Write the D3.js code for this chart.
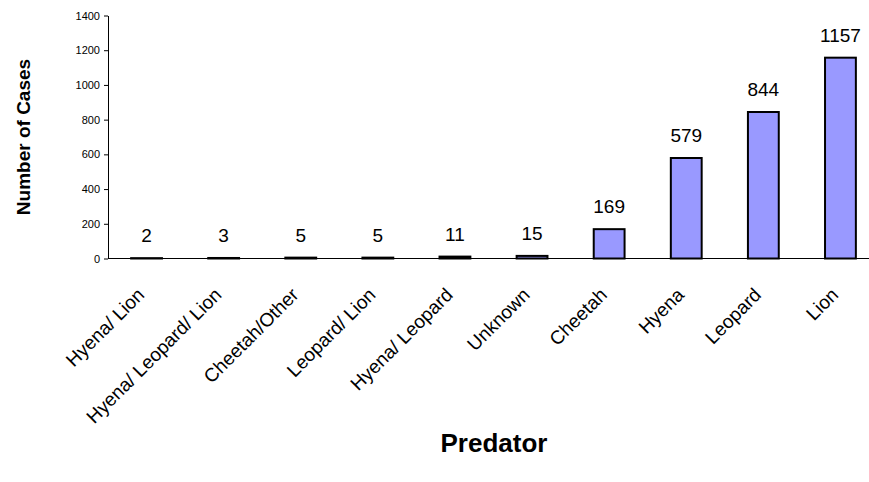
<!DOCTYPE html>
<html>
<head>
<meta charset="utf-8">
<script src="https://cdn.jsdelivr.net/npm/d3@7"></script>
<style>
  html, body { margin: 0; padding: 0; background: #fff; }
  svg { display: block; font-family: "Liberation Sans", Arial, sans-serif; }
</style>
</head>
<body>
<svg id="chart" width="869" height="482"></svg>
<script>
const categories = ["Hyena/ Lion", "Hyena/ Leopard/ Lion", "Cheetah/Other", "Leopard/ Lion", "Hyena/ Leopard", "Unknown", "Cheetah", "Hyena", "Leopard", "Lion"];
const cases = [2, 3, 5, 5, 11, 15, 169, 579, 844, 1157];
const yTicks = [0, 200, 400, 600, 800, 1000, 1200, 1400];
const yTitle = "Number of Cases";
const xTitle = "Predator";

const svg = d3.select("#chart");
const x = d3.scaleBand().domain(categories).range([108, 879]).paddingInner(0.6).paddingOuter(0.3);
const y = d3.scaleLinear().domain([0, 1400]).range([258.5, 15.5]);

// y axis
const yAxis = svg.append("g")
  .attr("transform", "translate(108,0)")
  .call(d3.axisLeft(y).tickValues(yTicks).tickFormat(d3.format("d")).tickSize(4).tickSizeOuter(0).tickPadding(4));
yAxis.select(".domain").attr("stroke", "#000");
yAxis.selectAll(".tick line").attr("stroke", "#000");
yAxis.selectAll(".tick text").attr("font-size", 11).attr("fill", "#000")
  .attr("font-family", "Liberation Sans, Arial, sans-serif");

// bars
svg.append("g").selectAll("rect").data(categories).join("rect")
  .attr("x", d => x(d))
  .attr("width", x.bandwidth())
  .attr("y", (d, i) => y(cases[i]))
  .attr("height", (d, i) => y(0) - y(cases[i]))
  .attr("fill", "#9999FF")
  .attr("stroke", "#000")
  .attr("stroke-width", 2);

// x axis line
svg.append("line")
  .attr("x1", 108).attr("x2", 879)
  .attr("y1", y(0)).attr("y2", y(0))
  .attr("stroke", "#000").attr("stroke-width", 1);

// value labels
svg.append("g").selectAll("text").data(categories).join("text")
  .attr("x", d => x(d) + x.bandwidth() / 2)
  .attr("y", (d, i) => y(cases[i]) - 16)
  .attr("text-anchor", "middle")
  .attr("font-size", 19)
  .attr("fill", "#000")
  .text((d, i) => cases[i]);

// category labels
svg.append("g").selectAll("text").data(categories).join("text")
  .attr("transform", d => `translate(${x(d) + x.bandwidth() / 2 - 1},296) rotate(-45)`)
  .attr("text-anchor", "end")
  .attr("font-size", 19)
  .attr("fill", "#000")
  .text(d => d);

// axis titles
svg.append("text")
  .attr("transform", "translate(30,137) rotate(-90)")
  .attr("text-anchor", "middle")
  .attr("font-size", 19)
  .attr("font-weight", "bold")
  .text(yTitle);

svg.append("text")
  .attr("x", 494).attr("y", 452)
  .attr("text-anchor", "middle")
  .attr("font-size", 26)
  .attr("font-weight", "bold")
  .text(xTitle);
</script>
</body>
</html>
